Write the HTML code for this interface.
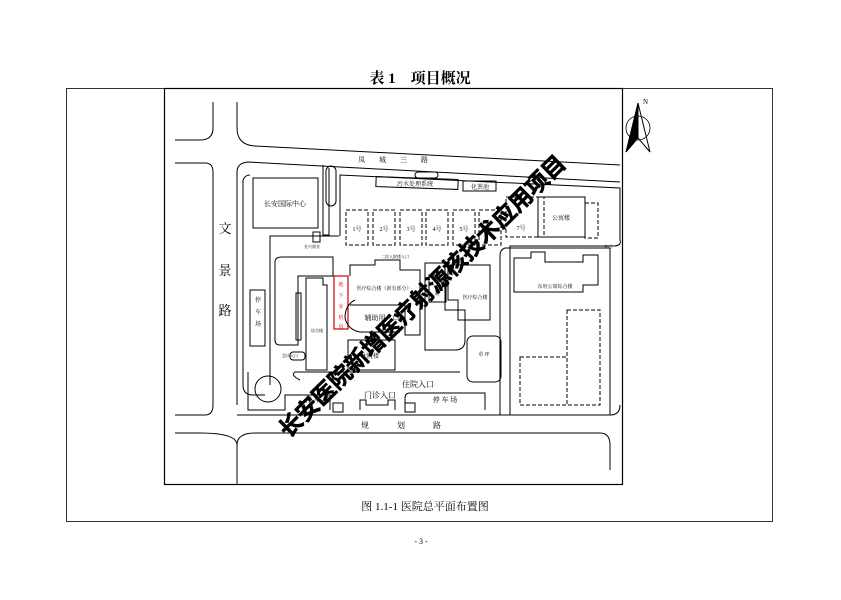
<!DOCTYPE html>
<html><head><meta charset="utf-8"><style>
html,body{margin:0;padding:0;background:#fff;}
body{width:841px;height:595px;overflow:hidden;}
svg text{font-family:"Liberation Serif","Noto Serif CJK SC","Noto Sans CJK SC",serif;}
</style></head><body>
<svg width="841" height="595" viewBox="0 0 841 595" xmlns="http://www.w3.org/2000/svg" fill="none" stroke="#000" stroke-width="1">
<text x="420" y="83" font-size="15" text-anchor="middle" fill="#000" stroke="none" font-weight="bold">表 1　项目概况</text>
<rect x="66.5" y="88.5" width="706" height="433" stroke-width="0.8"/>
<rect x="164.5" y="88.5" width="458" height="396" stroke-width="1.2"/>
<polygon points="638,103 626,152 638,138" fill="#000"/>
<polygon points="638,103 650,152 638,138" fill="#fff"/>
<circle cx="638" cy="128" r="12" stroke-width="0.8"/>
<text x="643" y="104" font-size="7" fill="#000" stroke="none">N</text>
<g stroke-width="1">
<path d="M213,102 V128 Q213,140 200,140 H175"/>
<path d="M237,102 V128 Q237,145 255,146 L620,165"/>
<path d="M175,163 H205 Q213,163 213,172 V405 Q213,415 205,415 H175"/>
<path d="M175,433 H200 Q237,433 237,445 V485"/>
<path d="M255,433 Q237,433 237,445"/>
<path d="M255,433 H600 Q610,433 610,445 V470"/>
<path d="M237,405 V172 Q237,163 248,162 L620,182"/>
<path d="M237,415 H610 Q620,415 620,405"/>
</g>
<g stroke-width="1">
<path d="M250,175 Q245,175 243,180 V385 Q243,395 253,395 H265"/>
<path d="M323,165 V235 H329 V168"/>
<rect x="326" y="166" width="10" height="40" rx="5"/>
<path d="M340,236 V175 L620,188 V240 Q622,245 615,246 H510 V415"/>
<path d="M339,236 H270 V385"/>
<path d="M500,415 V255 Q500,250 505,248 H610 V415"/>
<rect x="253" y="178" width="65" height="50"/>
<text x="285" y="206" font-size="7" text-anchor="middle" fill="#000" stroke="none">长安国际中心</text>
<rect x="313" y="232" width="7" height="10"/>
<text x="312" y="248" font-size="4" text-anchor="middle" fill="#000" stroke="none">长兴商业</text>
<rect x="376" y="178" width="82" height="10" transform="rotate(2 417 183)"/>
<text x="415" y="186" font-size="6" text-anchor="middle" fill="#000" stroke="none">污水处理系统</text>
<rect x="463" y="181" width="33" height="10"/>
<text x="480" y="189" font-size="6" text-anchor="middle" fill="#000" stroke="none">化粪池</text>
<rect x="415" y="172" width="23" height="6" rx="3"/>
<text x="400" y="162" font-size="7" text-anchor="middle" fill="#000" stroke="none" letter-spacing="14">凤城三路</text>
</g>
<g stroke-dasharray="4,2">
<rect x="346" y="210" width="22" height="35"/>
<rect x="373" y="210" width="22" height="35"/>
<rect x="400" y="210" width="22" height="35"/>
<rect x="426" y="210" width="22" height="35"/>
<rect x="453" y="210" width="22" height="35"/>
<rect x="479" y="210" width="22" height="35"/>
<rect x="506" y="197" width="38" height="40"/>
<rect x="585" y="203" width="13" height="35"/>
<rect x="567" y="310" width="33" height="95"/>
<rect x="520" y="357" width="47" height="48"/>
</g>
<rect x="538" y="197" width="47" height="40"/>
<g font-size="6" fill="#000" stroke="none" text-anchor="middle">
<text x="357" y="231">1号</text><text x="384" y="231">2号</text><text x="411" y="231">3号</text><text x="437" y="231">4号</text><text x="464" y="231">5号</text><text x="521" y="230">7号</text><text x="561" y="220">公寓楼</text>
<text x="608" y="248" font-size="4">东门</text>
</g>
<path d="M514,258 H531 V252 H545 V262 H583 V255 H598 V285 H583 V292 H514 Z" />
<text x="555" y="288" font-size="5" text-anchor="middle" fill="#000" stroke="none">东府公寓综合楼</text>
<g stroke-width="1">
<path d="M275,262 Q275,257 282,257 H333 V276 H298 V345 H280 Q275,345 275,340 Z"/>
<rect x="250" y="290" width="15" height="56"/>
<text x="258" y="302" font-size="6" fill="#000" stroke="none" text-anchor="middle">停</text>
<text x="258" y="314" font-size="6" fill="#000" stroke="none" text-anchor="middle">车</text>
<text x="258" y="326" font-size="6" fill="#000" stroke="none" text-anchor="middle">场</text>
<rect x="290" y="352" width="15" height="8" rx="3"/>
<rect x="296" y="293" width="5" height="47"/>
<path d="M306,278 H323 V285 H327 V370 H306 Z"/>
<text x="317" y="332" font-size="4" fill="#000" stroke="none" text-anchor="middle">综合楼</text>
<text x="290" y="357" font-size="4" fill="#000" stroke="none" text-anchor="middle">急诊入口</text>
<rect x="334" y="276" width="14" height="53" stroke="#c00" stroke-width="1.2"/>
<g font-size="5" fill="#c00" stroke="none" text-anchor="middle"><text x="341" y="286">地</text><text x="341" y="297">下</text><text x="341" y="308">室</text><text x="341" y="319">机</text><text x="341" y="328">房</text></g>
<path d="M350,276 V265 H375 V260 H400 V270 H420 V335 H405 V305 H350"/>
<text x="384" y="290" font-size="5" fill="#000" stroke="none" text-anchor="middle">医疗综合楼（新有部分）</text>
<text x="395" y="258" font-size="4" fill="#000" stroke="none" text-anchor="middle">二次入院楼入口</text>
<path d="M355,300 Q345,305 345,318 Q348,330 360,332 H400"/>
<text x="382" y="320" font-size="7" fill="#000" stroke="none" text-anchor="middle">辅助用入口</text>
<path d="M348,340 H395 V370 H348 Z"/>
<text x="370" y="358" font-size="6" fill="#000" stroke="none" text-anchor="middle">住院楼</text>
<path d="M425,263 H445 V310 H465 V340 Q465,350 455,350 H425 Z"/>
<rect x="429" y="275" width="17" height="27"/>
<text x="437" y="295" font-size="5" fill="#000" stroke="none" text-anchor="middle">站</text>
<path d="M448,265 H490 V320 H458 V300 H448 Z"/>
<text x="475" y="299" font-size="5" fill="#000" stroke="none" text-anchor="middle">医疗综合楼</text>
<rect x="467" y="336" width="34" height="46" rx="6"/>
<text x="484" y="356" font-size="5" fill="#000" stroke="none" text-anchor="middle">草 坪</text>
<path d="M300,380 Q290,375 295,372 H460"/>
<circle cx="268" cy="389" r="13"/>
<path d="M248,372 V410 H285 V395 H330 V410"/>
<text x="305" y="402" font-size="7" fill="#000" stroke="none">停 车 场</text>
<rect x="333" y="403" width="10" height="9"/>
<rect x="405" y="403" width="10" height="9"/>
<path d="M360,410 V400 H366 V405 H388 V400 H395 V410"/>
<text x="380" y="398" font-size="8" fill="#000" stroke="none" text-anchor="middle">门诊入口</text>
<text x="418" y="387" font-size="8" fill="#000" stroke="none" text-anchor="middle">住院入口</text>
<path d="M405,410 V398 Q405,393 410,393 H485 V410"/>
<text x="445" y="402" font-size="7" fill="#000" stroke="none" text-anchor="middle">停 车 场</text>
</g>
<g font-size="13" fill="#000" stroke="none" text-anchor="middle">
<text x="225" y="233">文</text><text x="225" y="275">景</text><text x="225" y="315">路</text>
</g>
<text x="415" y="428" font-size="8" fill="#000" stroke="none" text-anchor="middle" letter-spacing="28">规划路</text>
<text x="428" y="302" font-size="23" fill="#000" stroke="#000" stroke-width="0.6" text-anchor="middle" transform="rotate(-44.5 428 302)" style="font-family:'Noto Sans CJK SC',sans-serif;font-weight:bold">长安医院新增医疗射源核技术应用项目</text>
<text x="425" y="510" font-size="11" fill="#000" stroke="none" text-anchor="middle">图 1.1-1  医院总平面布置图</text>
<text x="421" y="544" font-size="8" fill="#000" stroke="none" text-anchor="middle">- 3 -</text>
</svg>
</body></html>
